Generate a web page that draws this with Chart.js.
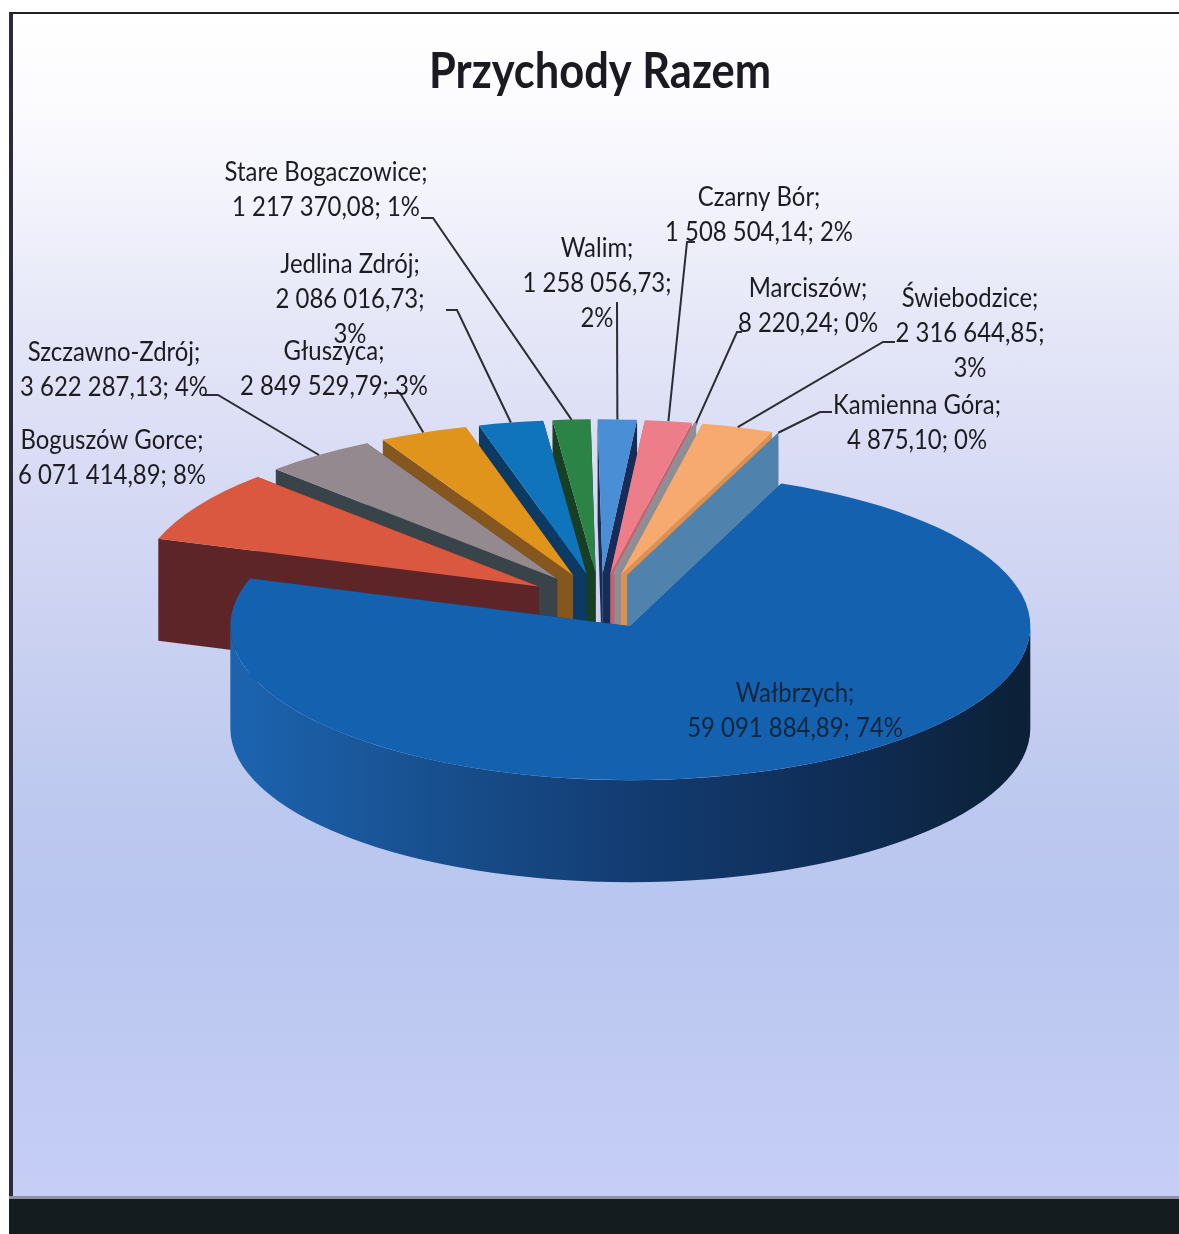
<!DOCTYPE html>
<html lang="pl">
<head>
<meta charset="utf-8">
<title>Przychody Razem</title>
<script src="https://cdn.jsdelivr.net/npm/chart.js@4"></script>
<style>
  html, body { margin: 0; padding: 0; background: #fff; overflow: hidden; }
  #frame {
    position: absolute; left: 9px; top: 12px; right: 0; height: 1184px;
    box-sizing: border-box;
    border-top: 2px solid #222; border-left: 4px solid #2b2b3c;
    background: linear-gradient(to bottom, #fff 0px, #fbfbfe 100px, #e6e8f8 300px, #d4d8f3 500px, #bcc8ef 800px, #b9c6ef 900px, #c6cef6 1184px);
  }
  #foot {
    position: absolute; left: 9px; top: 1196px; right: 0; height: 38px;
    box-sizing: border-box;
    border-top: 3px solid #8d90a0;
    background: #141c20;
  }
  canvas { position: absolute; left: 0; top: 0; }
</style>
</head>
<body>
<div id="frame"></div>
<div id="foot"></div>
<canvas id="chart" width="1179" height="1234"></canvas>
<script>
const titleText = 'Przychody Razem';
const towns = ['Boguszów Gorce', 'Szczawno-Zdrój', 'Głuszyca', 'Jedlina Zdrój', 'Stare Bogaczowice', 'Walim',
  'Czarny Bór', 'Marciszów', 'Świebodzice', 'Kamienna Góra', 'Wałbrzych'];
const revenue = [6071414.89, 3622287.13, 2849529.79, 2086016.73, 1217370.08, 1258056.73,
  1508504.14, 8220.24, 2316644.85, 4875.10, 59091884.89];
const percents = [8, 4, 3, 3, 1, 2, 2, 0, 3, 0, 74];

// slice styling
const topColors = ['#d9583f', '#93898f', '#e0941c', '#0f74bb', '#2b8445', '#4a8fd6', '#ee7d8a', '#8f8f98', '#f7aa70', '#4c82b2', '#1461b0'];
const cutColors = ['#5e2528', '#39434a', '#85561d', '#0c3a63', '#173f24', '#182c58', '#c8606c', '#8d8d95', '#dd9150', '#4f83ad', '#123f78'];
const rimStops = {
  10: ['#1c64b0', '#18508f', '#133c72', '#0f2e58', '#0c2036']
};
const sliverWidths = [0, 0, 0, 0, 0, 0, 0, 4, 0, 0, 0];

// label placement: centre x, first line y, line break before the percent, leader line points
const labelLayout = [
  { x: 112, y: 440, wrap: false, leader: null },
  { x: 114, y: 352, wrap: false, leader: [[203, 395], [218, 395]] },
  { x: 334, y: 351, wrap: false, leader: [[388, 393], [400, 393]] },
  { x: 350, y: 264, wrap: true,  leader: [[446, 310], [457, 310]] },
  { x: 326, y: 172, wrap: false, leader: [[421, 218], [433, 218]] },
  { x: 597, y: 248, wrap: true,  leader: [[617, 302]] },
  { x: 759, y: 197, wrap: false, leader: [[695, 242], [687, 242]] },
  { x: 808, y: 288, wrap: false, leader: [[742, 332], [737, 332]] },
  { x: 970, y: 298, wrap: true,  leader: [[895, 342], [883, 342]] },
  { x: 917, y: 405, wrap: false, leader: [[832, 412], [820, 412]] },
  { x: 795, y: 693, wrap: false, leader: null }
];

const SQUASH = 0.385;
const DEPTH = 102;
const EXPLODE = 72;
const LINE_GAP = 35;
const FONT = 'Lato, Carlito, sans-serif';
const TEXT_NARROW = 0.886;

function formatValue(v) {
  const parts = v.toFixed(2).split('.');
  return parts[0].replace(/\B(?=(\d{3})+$)/g, ' ') + ',' + parts[1];
}

// top face position of a slice once it is pulled out and the disc is tilted
function sliceGeometry(arc) {
  const mid = (arc.startAngle + arc.endAngle) / 2;
  return {
    mid: mid,
    x: arc.x + Math.cos(mid) * EXPLODE,
    y: arc.y + Math.sin(mid) * EXPLODE * SQUASH,
    r: arc.outerRadius
  };
}

function fillCut(ctx, g, angle, color) {
  const rx = g.x + Math.cos(angle) * g.r;
  const ry = g.y + Math.sin(angle) * g.r * SQUASH;
  ctx.fillStyle = color;
  ctx.beginPath();
  ctx.moveTo(g.x, g.y);
  ctx.lineTo(rx, ry);
  ctx.lineTo(rx, ry + DEPTH);
  ctx.lineTo(g.x, g.y + DEPTH);
  ctx.closePath();
  ctx.fill();
}

// only the part of the rim facing the viewer (sin > 0) gets a wall
function fillRim(ctx, g, arc, i) {
  let fill = cutColors[i];
  if (rimStops[i]) {
    fill = ctx.createLinearGradient(g.x - g.r, 0, g.x + g.r, 0);
    rimStops[i].forEach((c, k) => fill.addColorStop(k / (rimStops[i].length - 1), c));
  }
  ctx.fillStyle = fill;
  for (let k = -1; k <= 2; k++) {
    const lo = Math.max(arc.startAngle, k * 2 * Math.PI);
    const hi = Math.min(arc.endAngle, Math.PI + k * 2 * Math.PI);
    if (hi <= lo) continue;
    ctx.beginPath();
    ctx.ellipse(g.x, g.y, g.r, g.r * SQUASH, 0, lo, hi);
    ctx.ellipse(g.x, g.y + DEPTH, g.r, g.r * SQUASH, 0, hi, lo, true);
    ctx.closePath();
    ctx.fill();
  }
}

function narrowText(ctx, text, x, y) {
  ctx.save();
  ctx.translate(x, y);
  ctx.scale(TEXT_NARROW, 1);
  ctx.fillText(text, 0, 0);
  ctx.restore();
}

const tiltedPie = {
  id: 'tiltedPie',
  beforeDatasetsDraw(chart) {
    const ctx = chart.ctx;
    const arcs = chart.getDatasetMeta(0).data;
    const order = arcs.map((a, i) => i).sort((p, q) =>
      Math.sin((arcs[p].startAngle + arcs[p].endAngle) / 2) - Math.sin((arcs[q].startAngle + arcs[q].endAngle) / 2));

    order.forEach(i => {
      const arc = arcs[i];
      const g = sliceGeometry(arc);
      fillCut(ctx, g, arc.startAngle, cutColors[i]);
      fillCut(ctx, g, arc.endAngle, cutColors[i]);
      fillRim(ctx, g, arc, i);
      ctx.save();
      ctx.translate(g.x, g.y);
      ctx.scale(1, SQUASH);
      ctx.translate(-arc.x, -arc.y);
      arc.draw(ctx);
      ctx.restore();
    });
    return false;
  },
  afterDraw(chart) {
    const ctx = chart.ctx;
    const arcs = chart.getDatasetMeta(0).data;
    ctx.save();
    ctx.textAlign = 'center';
    ctx.textBaseline = 'middle';

    ctx.font = 'bold 49px ' + FONT;
    ctx.fillStyle = '#1a1a20';
    narrowText(ctx, titleText, 600, 72);

    ctx.font = '27px ' + FONT;
    arcs.forEach((arc, i) => {
      const layout = labelLayout[i];
      const g = sliceGeometry(arc);
      if (layout.leader) {
        ctx.strokeStyle = '#2c2c34';
        ctx.lineWidth = 2;
        ctx.beginPath();
        layout.leader.forEach((p, k) => k ? ctx.lineTo(p[0], p[1]) : ctx.moveTo(p[0], p[1]));
        ctx.lineTo(g.x + Math.cos(g.mid) * g.r, g.y + Math.sin(g.mid) * g.r * SQUASH);
        ctx.stroke();
      }
      const value = formatValue(revenue[i]);
      const lines = layout.wrap
        ? [towns[i] + ';', value + ';', percents[i] + '%']
        : [towns[i] + ';', value + '; ' + percents[i] + '%'];
      ctx.fillStyle = i === 10 ? '#14263c' : '#1c1c22';
      lines.forEach((t, k) => narrowText(ctx, t, layout.x, layout.y + k * LINE_GAP));
    });
    ctx.restore();
  }
};

new Chart(document.getElementById('chart').getContext('2d'), {
  type: 'pie',
  data: {
    labels: towns,
    datasets: [{
      data: revenue,
      backgroundColor: topColors,
      borderColor: topColors,
      borderWidth: sliverWidths
    }]
  },
  options: {
    responsive: false,
    animation: false,
    events: [],
    rotation: 288,
    radius: 400,
    layout: { padding: { left: 21, top: 110, bottom: 142 } },
    plugins: {
      legend: { display: false },
      tooltip: { enabled: false },
      title: { display: false }
    }
  },
  plugins: [tiltedPie]
});
</script>
</body>
</html>
